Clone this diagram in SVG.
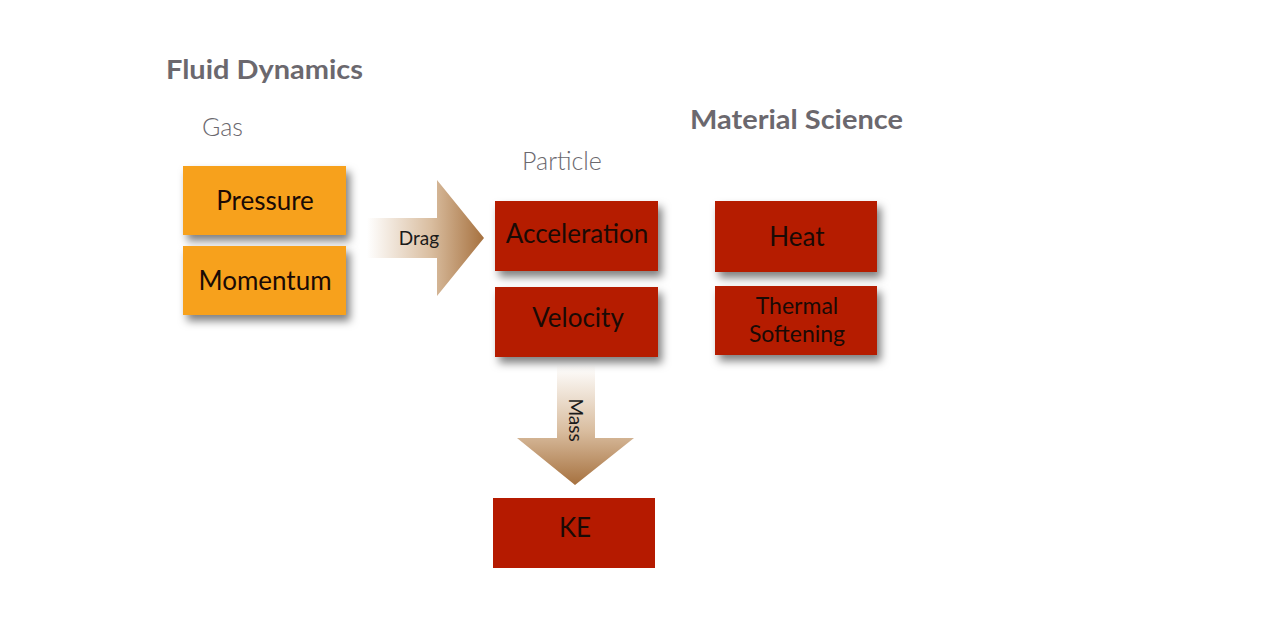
<svg xmlns="http://www.w3.org/2000/svg" width="1280" height="630" viewBox="0 0 1280 630">
<defs>
<filter id="sh" x="-20%" y="-20%" width="150%" height="160%">
<feDropShadow dx="4" dy="6" stdDeviation="4.5" flood-color="#000" flood-opacity="0.5"/>
</filter>
<linearGradient id="gh" x1="367" y1="0" x2="484" y2="0" gradientUnits="userSpaceOnUse">
<stop offset="0" stop-color="#ffffff"/>
<stop offset="0.55" stop-color="#d9bd9f"/>
<stop offset="1" stop-color="#a6713f"/>
</linearGradient>
<linearGradient id="gv" x1="0" y1="365" x2="0" y2="485" gradientUnits="userSpaceOnUse">
<stop offset="0" stop-color="#ffffff"/>
<stop offset="0.55" stop-color="#d9bd9f"/>
<stop offset="1" stop-color="#a6713f"/>
</linearGradient>
</defs>
<style>
.title{font-family:"Lato","Open Sans",sans-serif;font-weight:bold;font-size:26px;fill:#6b686e}
.sub{font-family:"Lato","Open Sans",sans-serif;font-weight:300;font-size:25px;fill:#6b686e}
.lbl{font-family:"Lato","Open Sans",sans-serif;font-size:26px;fill:#1a0a05;text-anchor:middle}
.lbl2{font-family:"Lato","Open Sans",sans-serif;font-size:23px;fill:#1a0a05;text-anchor:middle}
.al{font-family:"Lato","Open Sans",sans-serif;font-size:19px;fill:#1a1a1a;text-anchor:middle}
.or{fill:#f7a11a}
.rd{fill:#b51a00}
</style>
<rect width="1280" height="630" fill="#ffffff"/>
<text class="title" x="166" y="79" textLength="197" lengthAdjust="spacingAndGlyphs">Fluid Dynamics</text>
<text class="title" x="690" y="129" textLength="213" lengthAdjust="spacingAndGlyphs">Material Science</text>
<text class="sub" x="202" y="136">Gas</text>
<text class="sub" x="522" y="170">Particle</text>
<g id="connectors">
<g id="drag">
<polygon points="367,218 437,218 437,180 484,238 437,296 437,258 367,258" fill="url(#gh)"/>
<text class="al" x="419" y="245">Drag</text>
</g>
<g id="mass">
<polygon points="557,365 595,365 595,438 634,438 575,485 517,438 557,438" fill="url(#gv)"/>
<text class="al" transform="translate(569,420) rotate(90)" x="0" y="0">Mass</text>
</g>
</g>
<g id="pressure"><rect class="or" x="183" y="166" width="163" height="69" filter="url(#sh)"/><text class="lbl" x="265" y="210">Pressure</text></g>
<g id="momentum"><rect class="or" x="183" y="246" width="163" height="69" filter="url(#sh)"/><text class="lbl" x="265" y="290">Momentum</text></g>
<g id="acceleration"><rect class="rd" x="495" y="201" width="163" height="70" filter="url(#sh)"/><text class="lbl" x="577" y="243">Acceleration</text></g>
<g id="velocity"><rect class="rd" x="495" y="287" width="163" height="70" filter="url(#sh)"/><text class="lbl" x="578" y="327">Velocity</text></g>
<g id="ke"><rect class="rd" x="493" y="498" width="162" height="70"/><text class="lbl" x="575" y="537">KE</text></g>
<g id="heat"><rect class="rd" x="715" y="201" width="162" height="71" filter="url(#sh)"/><text class="lbl" x="797" y="246">Heat</text></g>
<g id="thermal"><rect class="rd" x="715" y="286" width="162" height="69" filter="url(#sh)"/><text class="lbl2" x="797" y="314">Thermal</text><text class="lbl2" x="797" y="342">Softening</text></g>
</svg>
